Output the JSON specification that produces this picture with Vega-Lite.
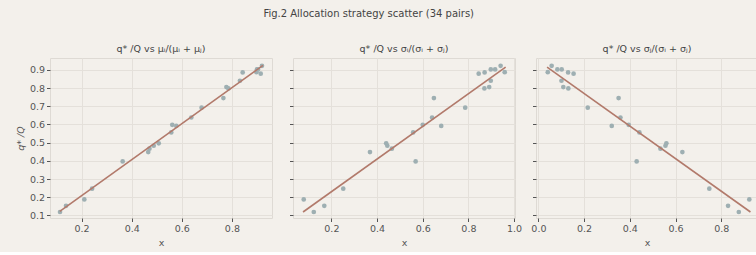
{
  "$schema": "https://vega.github.io/schema/vega-lite/v6.json",
  "background": "#f3f0eb",
  "padding": {"left": 14, "top": 9, "right": 0, "bottom": 5},
  "title": {"text": "Fig.2 Allocation strategy scatter (34 pairs)", "anchor": "middle", "dx": -18, "fontSize": 10, "font": "DejaVu Sans", "fontWeight": "normal", "color": "#444444", "offset": 24},
  "datasets": {
    "pts": [
      {"mu": 0.114, "si": 0.123, "sj": 0.877, "q": 0.119},
      {"mu": 0.138, "si": 0.169, "sj": 0.830, "q": 0.153},
      {"mu": 0.211, "si": 0.079, "sj": 0.923, "q": 0.188},
      {"mu": 0.242, "si": 0.252, "sj": 0.748, "q": 0.247},
      {"mu": 0.364, "si": 0.569, "sj": 0.430, "q": 0.397},
      {"mu": 0.466, "si": 0.369, "sj": 0.630, "q": 0.448},
      {"mu": 0.471, "si": 0.465, "sj": 0.534, "q": 0.467},
      {"mu": 0.488, "si": 0.445, "sj": 0.556, "q": 0.483},
      {"mu": 0.508, "si": 0.440, "sj": 0.560, "q": 0.496},
      {"mu": 0.558, "si": 0.558, "sj": 0.442, "q": 0.556},
      {"mu": 0.562, "si": 0.600, "sj": 0.395, "q": 0.598},
      {"mu": 0.578, "si": 0.681, "sj": 0.321, "q": 0.592},
      {"mu": 0.638, "si": 0.641, "sj": 0.359, "q": 0.638},
      {"mu": 0.679, "si": 0.786, "sj": 0.216, "q": 0.692},
      {"mu": 0.766, "si": 0.649, "sj": 0.351, "q": 0.745},
      {"mu": 0.778, "si": 0.891, "sj": 0.109, "q": 0.805},
      {"mu": 0.786, "si": 0.870, "sj": 0.131, "q": 0.798},
      {"mu": 0.832, "si": 0.898, "sj": 0.101, "q": 0.840},
      {"mu": 0.843, "si": 0.871, "sj": 0.130, "q": 0.886},
      {"mu": 0.898, "si": 0.959, "sj": 0.041, "q": 0.887},
      {"mu": 0.904, "si": 0.898, "sj": 0.102, "q": 0.902},
      {"mu": 0.900, "si": 0.917, "sj": 0.083, "q": 0.902},
      {"mu": 0.915, "si": 0.845, "sj": 0.154, "q": 0.879},
      {"mu": 0.920, "si": 0.941, "sj": 0.058, "q": 0.922}
    ],
    "lines": [
      {"panel": "mu", "x": 0.113, "y": 0.122},
      {"panel": "mu", "x": 0.924, "y": 0.924},
      {"panel": "si", "x": 0.076, "y": 0.119},
      {"panel": "si", "x": 0.963, "y": 0.915},
      {"panel": "sj", "x": 0.038, "y": 0.915},
      {"panel": "sj", "x": 0.928, "y": 0.119}
    ]
  },
  "config": {
    "font": "DejaVu Sans",
    "view": {"stroke": "#dedad4", "strokeWidth": 1},
    "axis": {
      "domain": false,
      "grid": true,
      "gridColor": "#e4e0da",
      "gridWidth": 1,
      "tickColor": "#555555",
      "tickSize": 3.5,
      "tickCount": 12,
      "labelColor": "#555555",
      "labelFontSize": 9.5,
      "labelPadding": 2,
      "labelOverlap": false,
      "labelFlush": false,
      "titleColor": "#555555",
      "titleFontSize": 9.5,
      "titleFontWeight": "normal"
    },
    "title": {"fontSize": 9.5, "fontWeight": "normal", "color": "#444444", "offset": 5},
    "concat": {"spacing": 21}
  },
  "bounds": "flush",
  "hconcat": [
    {
      "width": 222, "height": 160,
      "title": "q* /Q vs μᵢ/(μᵢ + μⱼ)",
      "layer": [
        {
          "data": {"name": "pts"},
          "mark": {"type": "circle", "size": 22, "color": "#9eafb2", "opacity": 1},
          "encoding": {
            "x": {"field": "mu", "type": "quantitative", "scale": {"domain": [0.074, 0.96], "nice": false, "zero": false}, "axis": {"values": [0.2, 0.4, 0.6, 0.8], "tickCount": 12, "format": ".1f", "title": "x"}},
            "y": {"field": "q", "type": "quantitative", "scale": {"domain": [0.086, 0.965], "nice": false, "zero": false}, "axis": {"values": [0.1, 0.2, 0.3, 0.4, 0.5, 0.6, 0.7, 0.8, 0.9], "tickCount": 12, "format": ".1f", "title": "q* /Q", "titleFontStyle": "italic", "titlePadding": 4}}
          }
        },
        {
          "data": {"name": "lines"},
          "transform": [{"filter": "datum.panel === 'mu'"}],
          "mark": {"type": "line", "color": "#b27a6b", "strokeWidth": 1.6},
          "encoding": {
            "x": {"field": "x", "type": "quantitative"},
            "y": {"field": "y", "type": "quantitative"}
          }
        }
      ]
    },
    {
      "width": 222, "height": 160,
      "title": "q* /Q vs σᵢ/(σᵢ + σⱼ)",
      "layer": [
        {
          "data": {"name": "pts"},
          "mark": {"type": "circle", "size": 22, "color": "#9eafb2", "opacity": 1},
          "encoding": {
            "x": {"field": "si", "type": "quantitative", "scale": {"domain": [0.032, 1.004], "nice": false, "zero": false}, "axis": {"values": [0.2, 0.4, 0.6, 0.8, 1.0], "tickCount": 12, "format": ".1f", "title": "x"}},
            "y": {"field": "q", "type": "quantitative", "scale": {"domain": [0.086, 0.965], "nice": false, "zero": false}, "axis": {"values": [0.1, 0.2, 0.3, 0.4, 0.5, 0.6, 0.7, 0.8, 0.9], "tickCount": 12, "labels": false, "title": null}}
          }
        },
        {
          "data": {"name": "lines"},
          "transform": [{"filter": "datum.panel === 'si'"}],
          "mark": {"type": "line", "color": "#b27a6b", "strokeWidth": 1.6},
          "encoding": {
            "x": {"field": "x", "type": "quantitative"},
            "y": {"field": "y", "type": "quantitative"}
          }
        }
      ]
    },
    {
      "width": 222, "height": 160,
      "title": "q* /Q vs σⱼ/(σᵢ + σⱼ)",
      "layer": [
        {
          "data": {"name": "pts"},
          "mark": {"type": "circle", "size": 22, "color": "#9eafb2", "opacity": 1},
          "encoding": {
            "x": {"field": "sj", "type": "quantitative", "scale": {"domain": [-0.0105, 0.961], "nice": false, "zero": false}, "axis": {"values": [0.0, 0.2, 0.4, 0.6, 0.8], "tickCount": 12, "format": ".1f", "title": "x"}},
            "y": {"field": "q", "type": "quantitative", "scale": {"domain": [0.086, 0.965], "nice": false, "zero": false}, "axis": {"values": [0.1, 0.2, 0.3, 0.4, 0.5, 0.6, 0.7, 0.8, 0.9], "tickCount": 12, "labels": false, "title": null}}
          }
        },
        {
          "data": {"name": "lines"},
          "transform": [{"filter": "datum.panel === 'sj'"}],
          "mark": {"type": "line", "color": "#b27a6b", "strokeWidth": 1.6},
          "encoding": {
            "x": {"field": "x", "type": "quantitative"},
            "y": {"field": "y", "type": "quantitative"}
          }
        }
      ]
    }
  ]
}
